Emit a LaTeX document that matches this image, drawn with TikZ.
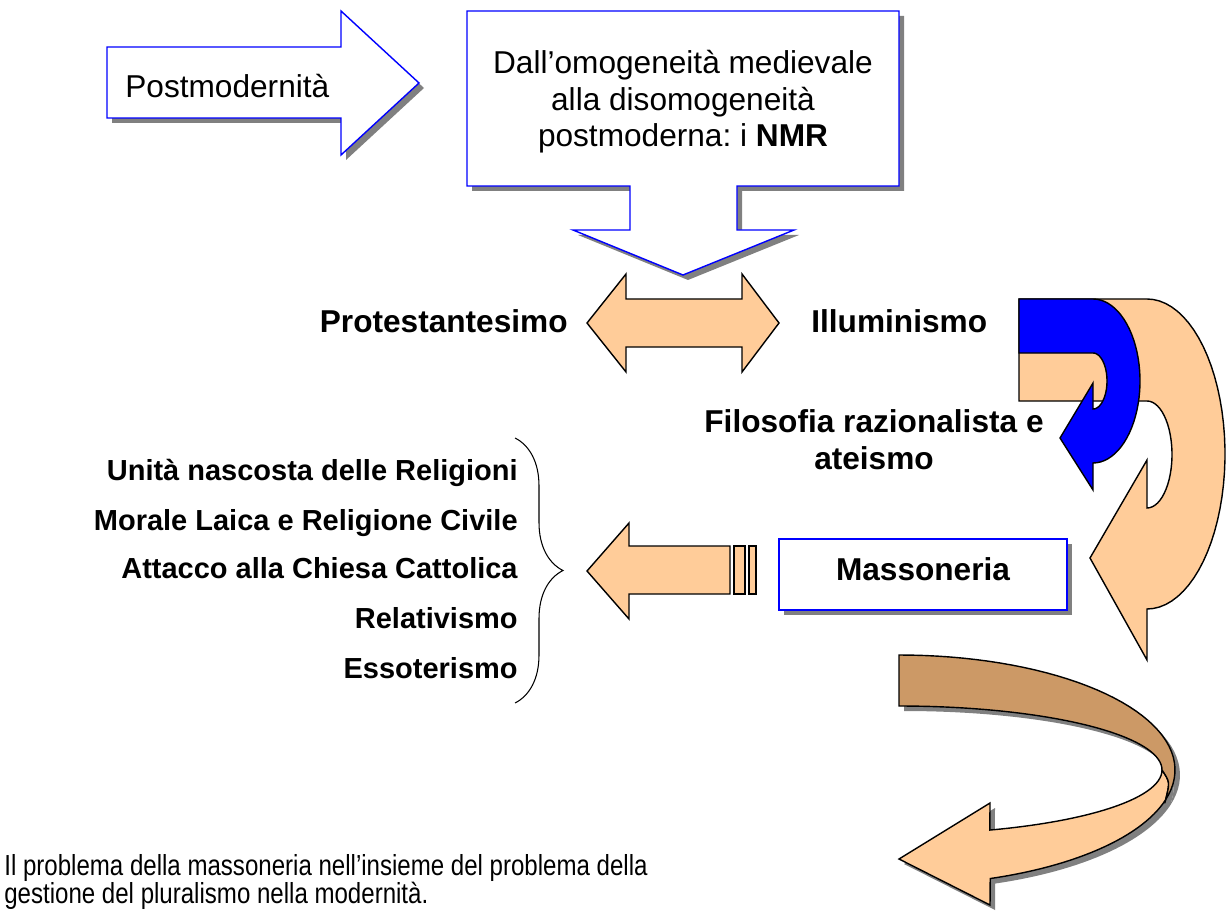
\documentclass[tikz,border=0pt]{standalone}
\usepackage{fontspec}
\setmainfont{Liberation Sans}
\newfontfamily\narrowfont[FakeStretch=0.83]{Liberation Sans}
\usepackage{tikz}
\usetikzlibrary{decorations.pathreplacing}
\frenchspacing

\definecolor{peach}{HTML}{FFCC99}
\definecolor{ribbonbrown}{HTML}{CC9966}
\definecolor{shadowgray}{HTML}{808080}
\newcommand\tightlines{\lineskiplimit=-20pt\relax}

\tikzset{
  shadowed/.style={preaction={fill=shadowgray,draw=none,transform canvas={xshift=0.1cm,yshift=-0.1cm}}},
  bluebox/.style={draw=blue,fill=white,line width=0.8pt,shadowed},
  peachbody/.style={draw=black,fill=peach,line width=0.8pt},
  plaintext/.style={inner sep=0pt,font=\fontsize{18}{20.8}\selectfont},
  boldtext/.style={inner sep=0pt,font=\bfseries\fontsize{18}{21}\selectfont},
  listitem/.style={inner sep=0pt,anchor=base east,font=\bfseries\fontsize{16.5}{19}\selectfont},
  footnote/.style={inner sep=0pt,align=left,font={\narrowfont\fontsize{16.5}{16}\selectfont\tightlines}},
}

\begin{document}
\begin{tikzpicture}[x=0.02cm,y=-0.02cm]
\useasboundingbox (0,0) rectangle (1226,915);

% top row
\draw[bluebox] (107,47) -- (341,47) -- (341,11) -- (419,83) -- (341,155) -- (341,118) -- (107,118) -- cycle;
\node[plaintext,anchor=base west] (postm) at (125,98) {Postmodernità};

\draw[bluebox] (467,11) -- (899,11) -- (899,186) -- (737,186) -- (737,230) -- (794,230) -- (683,275)
  -- (573,230) -- (630,230) -- (630,186) -- (467,186) -- cycle;
\node[plaintext,align=center] (nmr) at (683,102) {Dall’omogeneità medievale\\alla disomogeneità\\postmoderna: i \textbf{NMR}};

% double arrow
\draw[peachbody] (587,323) -- (626,274) -- (626,299) -- (742,299) -- (742,274) -- (779,323)
  -- (742,372) -- (742,347) -- (626,347) -- (626,372) -- cycle;
\node[boldtext,anchor=base east] (prot) at (568,332) {Protestantesimo};
\node[boldtext,anchor=base west] (illum) at (811,332) {Illuminismo};
\node[boldtext,align=center] (filos) at (874,440) {Filosofia razionalista e\\ateismo};

% curved arrows on the right
\draw[peachbody] (1019,299) -- (1147,299)
  -- plot[domain=-90:90,samples=40] ({1147+78*cos(\x)},{454+155*sin(\x)})
  -- (1147,660) -- (1090,558) -- (1147,460) -- (1147,508)
  -- plot[domain=90:-90,samples=30] ({1147+25*cos(\x)},{454.5+53.5*sin(\x)})
  -- (1019,401) -- cycle;
\draw[draw=black,fill=blue,line width=0.8pt] (1019,299) -- (1093,299)
  -- plot[domain=-90:90,samples=40] ({1093+47*cos(\x)},{381+82*sin(\x)})
  -- (1093,490) -- (1060,438) -- (1093,383) -- (1093,409)
  -- plot[domain=90:-90,samples=30] ({1093+14*cos(\x)},{381+28*sin(\x)})
  -- (1019,353) -- cycle;

% Massoneria
\draw[bluebox] (779,539) rectangle (1067,610);
\node[boldtext,anchor=base] (masso) at (923,580) {Massoneria};

\draw[peachbody] (587,571) -- (629,523) -- (629,546) -- (730,546) -- (730,594) -- (629,594) -- (629,619) -- cycle;
\draw[peachbody] (734,546) rectangle (745,594);
\draw[peachbody] (749,546) rectangle (756,594);

% list
\node[listitem] (unita) at (518,480) {Unità nascosta delle Religioni};
\node[listitem] (morale) at (518,530) {Morale Laica e Religione Civile};
\node[listitem] (attacco) at (518,578) {Attacco alla Chiesa Cattolica};
\node[listitem] (relat) at (518,628) {Relativismo};
\node[listitem] (essot) at (518,678) {Essoterismo};
\draw[decorate,decoration={brace,amplitude=0.96cm},line width=0.6pt] (515,438) -- (515,703);

% ribbon arrow
\draw[peachbody,shadowed] (1165.6,799.8)
  -- plot[domain=15:70.7,samples=30] ({899+276*cos(\x)},{770+115*sin(\x)})
  -- (990,905) -- (899,859) -- (990,803)
  -- plot[domain=69.8:0,samples=30] ({899+263*cos(\x)},{770+64*sin(\x)})
  .. controls (1170,782) .. (1165.6,799.8) -- cycle;
\draw[draw=black,fill=ribbonbrown,line width=0.8pt,shadowed] (899,655)
  -- plot[domain=-90:15,samples=40] ({899+276*cos(\x)},{770+115*sin(\x)})
  .. controls (1170,782) .. (1162,770)
  -- plot[domain=0:-90,samples=40] ({899+263*cos(\x)},{770+64*sin(\x)}) -- cycle;

\node[footnote,anchor=west] (problema) at (4,882)
  {Il problema della massoneria nell’insieme del problema della\\gestione del pluralismo nella modernità.};
\end{tikzpicture}
\end{document}
